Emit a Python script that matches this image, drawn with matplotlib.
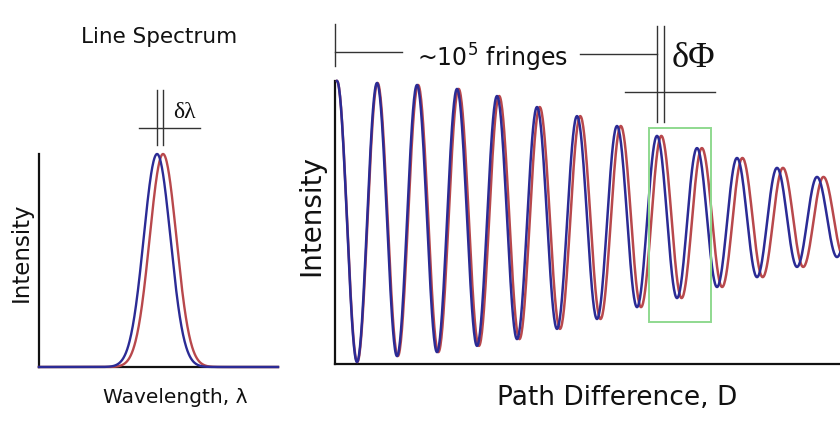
import numpy as np
import matplotlib.pyplot as plt
from matplotlib.patches import Rectangle

# Left panel: two spectral lines (wavelength in arbitrary units, 0-100)
line_centres = [49.4, 51.9]          # blue, red
line_sigma = 5.6
line_height = 1.0

# Right panel: blue interferogram extrema, one every half fringe
peak_heights = [100, 99.3, 98.6, 97.2, 94.7, 90.8, 87.6, 84.1, 80.6,
                76.3, 72.8, 69.3, 66.1, 62.9]
trough_heights = [0.7, 2.8, 4.2, 6.4, 8.8, 12.4, 15.9, 20.1, 23.3,
                  27.2, 30.7, 34.3, 37.8]
red_stretch = 1.0135                 # red fringe spacing / blue spacing
box_fringes = (7.8, 9.35)            # green box, fringe numbers
box_levels = (14.8, 83.4)            # green box, intensity

BLUE = '#2b2b95'
RED = '#b8484c'
INK = '#333333'
W, H = 840, 427


def fx(px):
    return px / W


def fy(py):
    return 1 - py / H


def fringe_curve(pos, vals, n=40):
    """Half-cosine between consecutive extrema."""
    xs, ys = [], []
    for i in range(len(pos) - 1):
        t = np.linspace(0, 1, n, endpoint=False)
        xs.append(pos[i] + t * (pos[i + 1] - pos[i]))
        ys.append(vals[i + 1] + (vals[i] - vals[i + 1]) * (1 + np.cos(np.pi * t)) / 2)
    return np.concatenate(xs), np.concatenate(ys)


def plain_axes(ax):
    for s in ('top', 'right'):
        ax.spines[s].set_visible(False)
    for s in ('left', 'bottom'):
        ax.spines[s].set_linewidth(1.6)
        ax.spines[s].set_color('#111111')
    ax.set_xticks([])
    ax.set_yticks([])
    ax.patch.set_alpha(0)


fig = plt.figure(figsize=(W / 100, H / 100), dpi=100)
fig.patch.set_facecolor('white')

# ---- left: line spectrum
ax1 = fig.add_axes([fx(39), fy(368), fx(278 - 39), (368 - 155) / H])
x = np.linspace(0, 100, 600)
for c, col in zip(line_centres[::-1], [RED, BLUE]):
    ax1.plot(x, line_height * np.exp(-0.5 * ((x - c) / line_sigma) ** 2),
             color=col, lw=1.7, clip_on=False, zorder=3)
ax1.set_xlim(0, 100)
ax1.set_ylim(0, 1)
plain_axes(ax1)

# δλ marker
for c in line_centres:
    ax1.plot([c, c], [1.04, 1.30], color=INK, lw=1.0, clip_on=False)
ax1.plot([41.8, 67.4], [1.122, 1.122], color=INK, lw=1.0, clip_on=False)

# ---- right: interferogram
ax2 = fig.add_axes([fx(335), fy(365), fx(840 - 335), (365 - 82) / H])
vals = []
for i in range(len(trough_heights)):
    vals += [peak_heights[i], trough_heights[i]]
vals.append(peak_heights[len(trough_heights)])
pos = np.arange(len(vals)) * 0.5
clip = Rectangle((-0.05, -5), 12.625, 115, transform=None)
for p, col, z in ((pos * red_stretch, RED, 3), (pos, BLUE, 4)):
    xs, ys = fringe_curve(p, vals)
    ln, = ax2.plot(xs, ys, color=col, lw=1.8, zorder=z)
    ln.set_clip_path(Rectangle((-0.05, -5), 12.625, 115,
                               transform=ax2.transData))
ax2.set_xlim(-0.05, 12.575)
ax2.set_ylim(0, 100)
plain_axes(ax2)

ax2.add_patch(Rectangle((box_fringes[0], box_levels[0]),
                        box_fringes[1] - box_fringes[0],
                        box_levels[1] - box_levels[0],
                        fill=False, edgecolor='#8fd98f', lw=1.4, zorder=5))

# fringe-count and δΦ markers
ax2.plot([-0.05, -0.05], [105.3, 120.1], color=INK, lw=1.0, clip_on=False)
ax2.plot([-0.05, 1.625], [110.2, 110.2], color=INK, lw=1.0, clip_on=False)
ax2.plot([6.07, 8.0], [109.5, 109.5], color=INK, lw=1.0, clip_on=False)
for p in (8.0, 8.18):
    ax2.plot([p, p], [85.5, 119.4], color=INK, lw=1.0, clip_on=False)
ax2.plot([7.2, 9.45], [96.1, 96.1], color=INK, lw=1.0, clip_on=False)

# ---- texts
sans = 'DejaVu Sans'
serif = ['Liberation Serif', 'DejaVu Serif']
fig.text(fx(159), fy(37), 'Line Spectrum', ha='center', va='center',
         fontsize=15.5, family=sans, color='#111111')
fig.text(fx(175), fy(398), 'Wavelength, λ', ha='center', va='center',
         fontsize=14.5, family=sans, color='#111111')
fig.text(fx(21), fy(252), 'Intensity', ha='center', va='center',
         rotation=90, fontsize=16.5, family=sans, color='#111111')
fig.text(fx(311), fy(216), 'Intensity', ha='center', va='center',
         rotation=90, fontsize=20, family=sans, color='#111111')
fig.text(fx(617), fy(398), 'Path Difference, D', ha='center', va='center',
         fontsize=19, family=sans, color='#111111')
fig.text(fx(417), fy(67), r'~10$^5$ fringes', ha='left', va='baseline',
         fontsize=17, family=sans, color='#111111')
fig.text(fx(173), fy(118), 'δλ', ha='left', va='baseline',
         fontsize=17, family=serif, color='#111111')
fig.text(fx(672), fy(67), 'δΦ', ha='left', va='baseline',
         fontsize=26, family=serif, color='#111111')

fig.savefig('out.png', dpi=100, facecolor='white')
